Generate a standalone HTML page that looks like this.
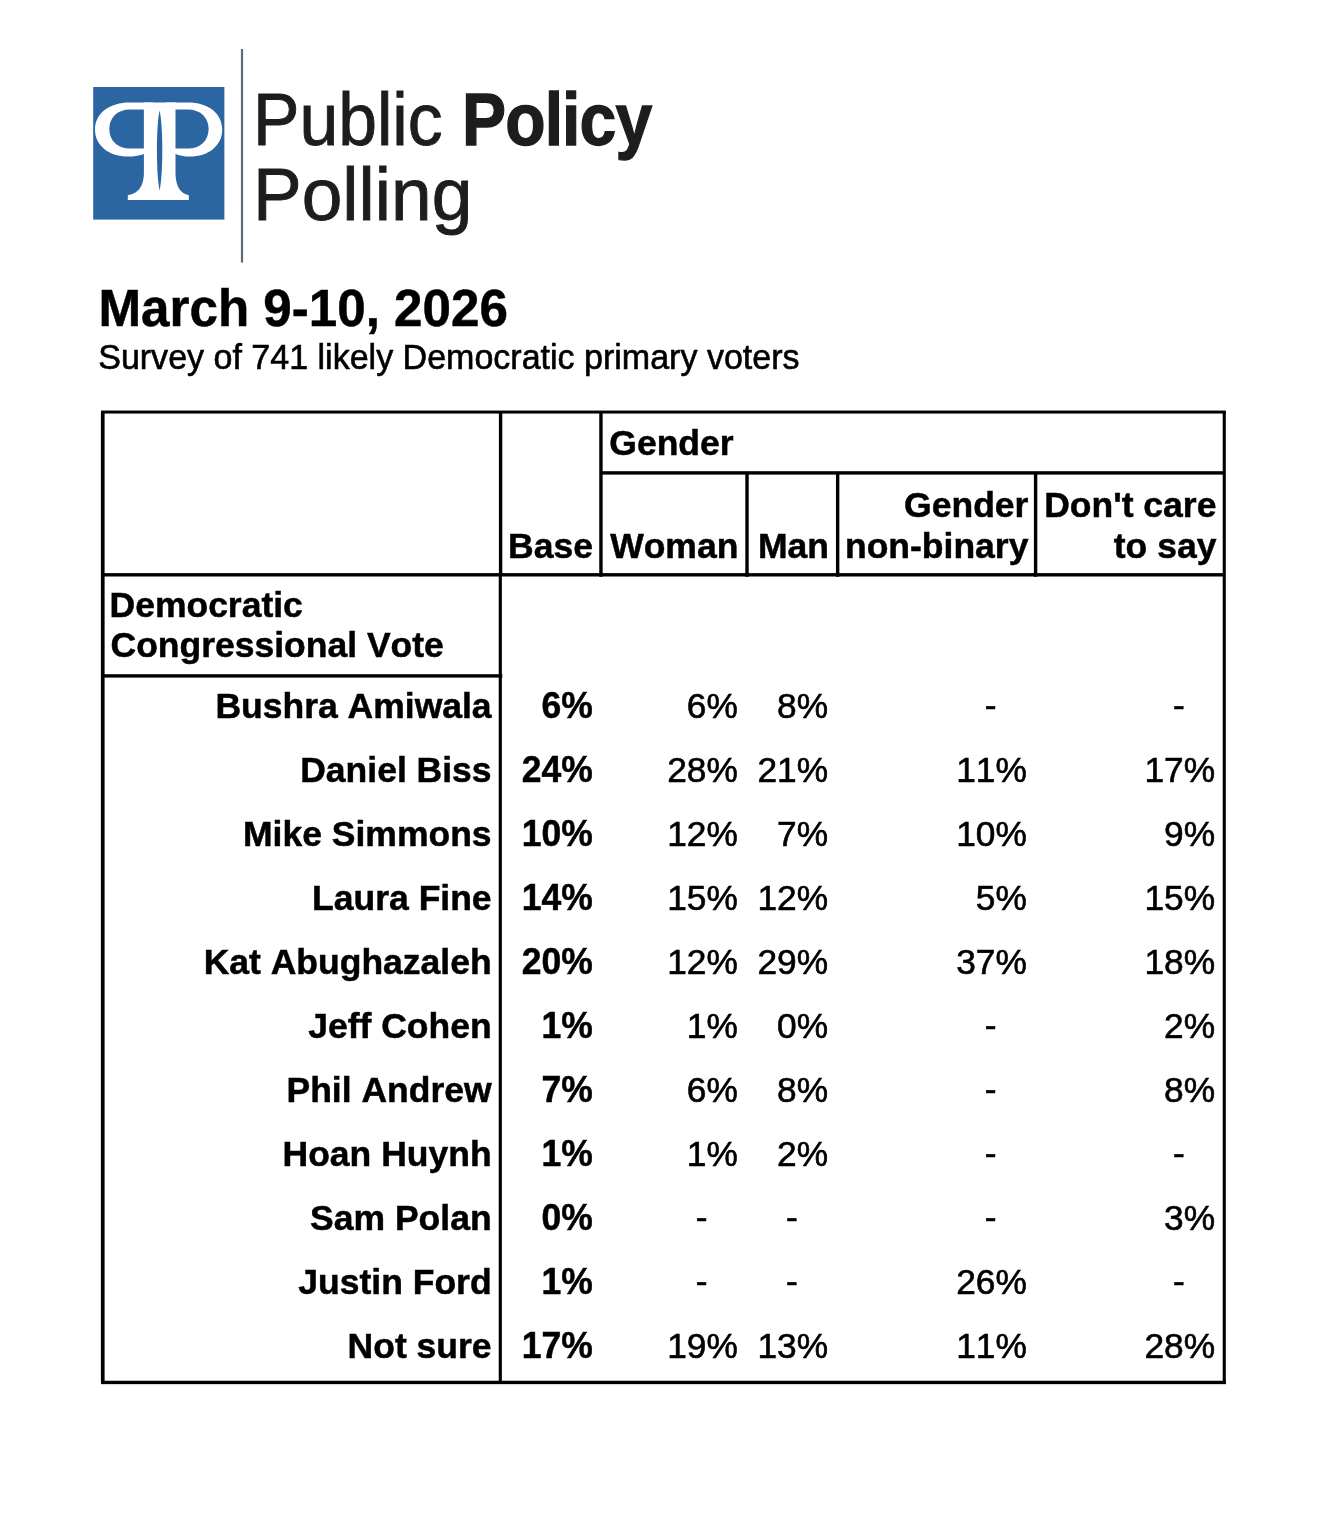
<!DOCTYPE html>
<html lang="en">
<head>
<meta charset="utf-8">
<title>Public Policy Polling - March 9-10, 2026</title>
<style>
html,body{margin:0;padding:0;background:#fff;}
body{width:1342px;height:1530px;position:relative;overflow:hidden;font-family:"Liberation Sans",Arial,Helvetica,sans-serif;color:#000;font-kerning:none;}
svg{position:absolute;left:0;top:0;}
.t{position:absolute;white-space:nowrap;line-height:40px;font-size:35.5px;transform-origin:0 32.30px;transform:scaleY(1);}
.n{transform:scaleY(1.02);font-size:35.3px;}
.n.b{font-size:35.5px;}
.t{-webkit-text-stroke:0.6px #000;}
.b{font-weight:bold;-webkit-text-stroke:0.5px #000;}
.r{text-align:right;}
.brand{position:absolute;white-space:nowrap;color:#1d1d1d;font-size:74px;line-height:80px;transform-origin:0 0;}
</style>
</head>
<body>
<svg width="700" height="280" viewBox="0 0 700 280">
<rect x="93.2" y="87" width="131.2" height="132.6" fill="#2b66a3"/>
<g fill="#fff">
<path d="M166 102.4 L188 102.4 C208 102.4 222.2 113 222.2 129.5 C222.2 146 208 156.6 190 156.6 C184 156.6 179 155.5 175.5 154 L166 154 Z"/>
<path d="M153.4 102.4 L130 102.4 C109.5 102.4 95 113 95 129.5 C95 146 109.5 156.6 128 156.6 C134.5 156.6 140.4 155.5 143.9 154 L153.4 154 Z"/>
<path d="M143.9 102.4 L175.5 102.4 L175.5 174 Q176 192.5 188.8 195.3 L188.8 200 L127.8 200 L127.8 195.3 Q143.4 192.5 143.9 174 Z"/>
</g>
<g fill="#2b66a3">
<path d="M175.5 109.4 L188 109.4 C200 109.4 208.6 117 208.6 129 C208.6 141 200 148.6 188 148.6 L175.5 148.6 Z"/>
<path d="M143.9 109.4 L130 109.4 C117.8 109.4 109.3 117 109.3 129 C109.3 141 117.8 148.6 130 148.6 L143.9 148.6 Z"/>
<path d="M159.6 110.6 C163.2 126 163.2 174 159.6 190.6 C156 174 156 126 159.6 110.6 Z"/>
</g>
<rect x="240.9" y="49" width="2.2" height="213.6" fill="#5d6a76"/>
</svg>
<div class="brand" id="b1" style="left:253.4px;top:80.3px;-webkit-text-stroke:0.9px #1d1d1d;transform:scaleX(0.941)">Public</div>
<div class="brand b" id="b2" style="left:461.8px;top:80.3px;-webkit-text-stroke:1.3px #1d1d1d;letter-spacing:-1px;transform:scaleX(0.893)">Policy</div>
<div class="brand" id="b3" style="left:253.3px;top:154.6px;-webkit-text-stroke:0.9px #1d1d1d;transform:scaleX(0.987)">Polling</div>
<div class="t b" id="title" style="left:98.5px;top:279.3px;font-size:51.15px;line-height:60px;transform-origin:0 47.72px;transform:scaleY(1.03)">March 9-10, 2026</div>
<div class="t" id="sub" style="left:98.2px;top:337.2px;font-size:34.03px;line-height:40px;transform-origin:0 31.79px;transform:scaleY(1.045)">Survey of 741 likely Democratic primary voters</div>
<svg width="1342" height="1530" viewBox="0 0 1342 1530" fill="#000">
<rect x="101.05" y="410.55" width="1124.90" height="3.00"/>
<rect x="101.05" y="1380.75" width="1124.90" height="3.40"/>
<rect x="100.90" y="412.05" width="3.70" height="970.40"/>
<rect x="1222.70" y="412.05" width="3.10" height="970.40"/>
<rect x="498.90" y="412.05" width="3.40" height="162.75"/>
<rect x="498.73" y="574.80" width="3.15" height="807.65"/>
<rect x="599.25" y="412.05" width="3.40" height="164.75"/>
<rect x="600.95" y="471.20" width="623.30" height="3.40"/>
<rect x="102.75" y="573.10" width="1121.50" height="3.40"/>
<rect x="745.30" y="472.90" width="3.40" height="103.90"/>
<rect x="835.95" y="472.90" width="3.40" height="103.90"/>
<rect x="1033.90" y="472.90" width="3.40" height="103.90"/>
<rect x="102.75" y="674.20" width="399.55" height="3.40"/>
</svg>
<div class="t b" id="hg" style="left:609.3px;top:422.7px">Gender</div>
<div class="t b r" id="hb" style="right:749.1px;top:525.5px">Base</div>
<div class="t b r" id="hw" style="right:603.7px;top:525.5px">Woman</div>
<div class="t b r" id="hm" style="right:513.0px;top:525.5px">Man</div>
<div class="t b r" id="hnb1" style="right:313.6px;top:484.5px">Gender</div>
<div class="t b r" id="hnb2" style="right:313.6px;top:525.5px">non-binary</div>
<div class="t b r" id="hdc1" style="right:125.6px;top:484.5px">Don't care</div>
<div class="t b r" id="hdc2" style="right:125.6px;top:525.5px">to say</div>
<div class="t b" id="sec1" style="left:109.5px;top:584.7px">Democratic</div>
<div class="t b" id="sec2" style="left:110.5px;top:625.2px">Congressional Vote</div>
<div class="t b r" id="n0" style="right:850.4px;top:686.0px">Bushra Amiwala</div>
<div class="t b n r" id="base0" style="right:749.1px;top:686.0px">6%</div>
<div class="t n r" id="woman0" style="right:604.2px;top:686.0px">6%</div>
<div class="t n r" id="man0" style="right:513.9px;top:686.0px">8%</div>
<div class="t n r" id="nb0" style="right:345.6px;top:684.8px">-</div>
<div class="t n r" id="dc0" style="right:157.3px;top:684.8px">-</div>
<div class="t b r" id="n1" style="right:850.4px;top:750.0px">Daniel Biss</div>
<div class="t b n r" id="base1" style="right:749.1px;top:750.0px">24%</div>
<div class="t n r" id="woman1" style="right:604.2px;top:750.0px">28%</div>
<div class="t n r" id="man1" style="right:513.9px;top:750.0px">21%</div>
<div class="t n r" id="nb1" style="right:315.2px;top:750.0px">11%</div>
<div class="t n r" id="dc1" style="right:126.9px;top:750.0px">17%</div>
<div class="t b r" id="n2" style="right:850.4px;top:814.1px">Mike Simmons</div>
<div class="t b n r" id="base2" style="right:749.1px;top:814.1px">10%</div>
<div class="t n r" id="woman2" style="right:604.2px;top:814.1px">12%</div>
<div class="t n r" id="man2" style="right:513.9px;top:814.1px">7%</div>
<div class="t n r" id="nb2" style="right:315.2px;top:814.1px">10%</div>
<div class="t n r" id="dc2" style="right:126.9px;top:814.1px">9%</div>
<div class="t b r" id="n3" style="right:850.4px;top:878.1px">Laura Fine</div>
<div class="t b n r" id="base3" style="right:749.1px;top:878.1px">14%</div>
<div class="t n r" id="woman3" style="right:604.2px;top:878.1px">15%</div>
<div class="t n r" id="man3" style="right:513.9px;top:878.1px">12%</div>
<div class="t n r" id="nb3" style="right:315.2px;top:878.1px">5%</div>
<div class="t n r" id="dc3" style="right:126.9px;top:878.1px">15%</div>
<div class="t b r" id="n4" style="right:850.4px;top:942.2px">Kat Abughazaleh</div>
<div class="t b n r" id="base4" style="right:749.1px;top:942.2px">20%</div>
<div class="t n r" id="woman4" style="right:604.2px;top:942.2px">12%</div>
<div class="t n r" id="man4" style="right:513.9px;top:942.2px">29%</div>
<div class="t n r" id="nb4" style="right:315.2px;top:942.2px">37%</div>
<div class="t n r" id="dc4" style="right:126.9px;top:942.2px">18%</div>
<div class="t b r" id="n5" style="right:850.4px;top:1006.2px">Jeff Cohen</div>
<div class="t b n r" id="base5" style="right:749.1px;top:1006.2px">1%</div>
<div class="t n r" id="woman5" style="right:604.2px;top:1006.2px">1%</div>
<div class="t n r" id="man5" style="right:513.9px;top:1006.2px">0%</div>
<div class="t n r" id="nb5" style="right:345.6px;top:1005.0px">-</div>
<div class="t n r" id="dc5" style="right:126.9px;top:1006.2px">2%</div>
<div class="t b r" id="n6" style="right:850.4px;top:1070.2px">Phil Andrew</div>
<div class="t b n r" id="base6" style="right:749.1px;top:1070.2px">7%</div>
<div class="t n r" id="woman6" style="right:604.2px;top:1070.2px">6%</div>
<div class="t n r" id="man6" style="right:513.9px;top:1070.2px">8%</div>
<div class="t n r" id="nb6" style="right:345.6px;top:1069.0px">-</div>
<div class="t n r" id="dc6" style="right:126.9px;top:1070.2px">8%</div>
<div class="t b r" id="n7" style="right:850.4px;top:1134.3px">Hoan Huynh</div>
<div class="t b n r" id="base7" style="right:749.1px;top:1134.3px">1%</div>
<div class="t n r" id="woman7" style="right:604.2px;top:1134.3px">1%</div>
<div class="t n r" id="man7" style="right:513.9px;top:1134.3px">2%</div>
<div class="t n r" id="nb7" style="right:345.6px;top:1133.1px">-</div>
<div class="t n r" id="dc7" style="right:157.3px;top:1133.1px">-</div>
<div class="t b r" id="n8" style="right:850.4px;top:1198.3px">Sam Polan</div>
<div class="t b n r" id="base8" style="right:749.1px;top:1198.3px">0%</div>
<div class="t n r" id="woman8" style="right:634.6px;top:1197.1px">-</div>
<div class="t n r" id="man8" style="right:544.3px;top:1197.1px">-</div>
<div class="t n r" id="nb8" style="right:345.6px;top:1197.1px">-</div>
<div class="t n r" id="dc8" style="right:126.9px;top:1198.3px">3%</div>
<div class="t b r" id="n9" style="right:850.4px;top:1262.4px">Justin Ford</div>
<div class="t b n r" id="base9" style="right:749.1px;top:1262.4px">1%</div>
<div class="t n r" id="woman9" style="right:634.6px;top:1261.2px">-</div>
<div class="t n r" id="man9" style="right:544.3px;top:1261.2px">-</div>
<div class="t n r" id="nb9" style="right:315.2px;top:1262.4px">26%</div>
<div class="t n r" id="dc9" style="right:157.3px;top:1261.2px">-</div>
<div class="t b r" id="n10" style="right:850.4px;top:1326.4px">Not sure</div>
<div class="t b n r" id="base10" style="right:749.1px;top:1326.4px">17%</div>
<div class="t n r" id="woman10" style="right:604.2px;top:1326.4px">19%</div>
<div class="t n r" id="man10" style="right:513.9px;top:1326.4px">13%</div>
<div class="t n r" id="nb10" style="right:315.2px;top:1326.4px">11%</div>
<div class="t n r" id="dc10" style="right:126.9px;top:1326.4px">28%</div>
</body>
</html>
